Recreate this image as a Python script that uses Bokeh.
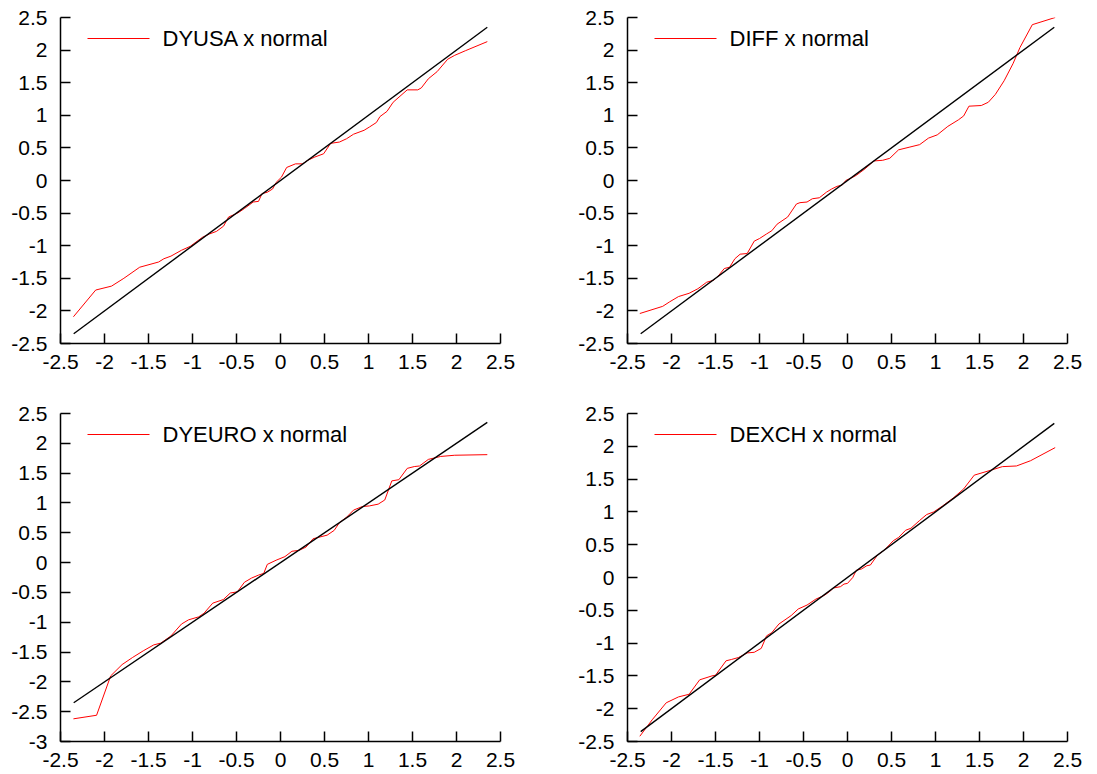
from bokeh.plotting import figure
from bokeh.models import Range1d, FixedTicker, Label, Arrow
from bokeh.layouts import column, row
from bokeh.embed import file_html
from bokeh.resources import INLINE

# Axis ticks and their printed labels
tick_values = [-3, -2.5, -2, -1.5, -1, -0.5, 0, 0.5, 1, 1.5, 2, 2.5]
tick_labels = ["-3", "-2.5", "-2", "-1.5", "-1", "-0.5", "0", "0.5", "1", "1.5", "2", "2.5"]

# 45-degree reference line spanning the theoretical quantiles
ref_x = [-2.35, 2.35]
ref_y = [-2.35, 2.35]

# Normal quantiles (x) against standardized sample quantiles (y)
dyusa_x = [-2.353, -2.10, -1.92, -1.78, -1.60, -1.385, -1.325, -1.245, -1.125, -1.026,
           -0.886, -0.807, -0.727, -0.647, -0.59, -0.488, -0.41, -0.31, -0.25, -0.21,
           -0.15, -0.09, -0.05, 0.01, 0.07, 0.17, 0.25, 0.31, 0.39, 0.49,
           0.57, 0.67, 0.75, 0.83, 0.95, 1.01, 1.09, 1.13, 1.21, 1.28,
           1.44, 1.56, 1.60, 1.68, 1.78, 1.90, 1.98, 2.10, 2.35]
dyusa_y = [-2.09, -1.68, -1.62, -1.50, -1.33, -1.25, -1.20, -1.16, -1.07, -1.01,
           -0.87, -0.82, -0.78, -0.70, -0.56, -0.50, -0.43, -0.33, -0.32, -0.20,
           -0.18, -0.13, -0.03, 0.05, 0.20, 0.255, 0.255, 0.31, 0.36, 0.41,
           0.57, 0.59, 0.64, 0.71, 0.77, 0.82, 0.89, 0.98, 1.06, 1.20,
           1.39, 1.39, 1.42, 1.56, 1.67, 1.86, 1.92, 1.99, 2.13]

diff_x = [-2.36, -2.10, -2.02, -1.92, -1.80, -1.70, -1.60, -1.52, -1.46, -1.40,
          -1.34, -1.28, -1.22, -1.14, -1.06, -1.00, -0.92, -0.86, -0.80, -0.68,
          -0.58, -0.54, -0.46, -0.40, -0.32, -0.24, -0.18, -0.12, -0.06, -0.02,
          0.06, 0.10, 0.20, 0.30, 0.40, 0.48, 0.58, 0.70, 0.82, 0.92,
          1.02, 1.14, 1.26, 1.32, 1.38, 1.52, 1.60, 1.68, 1.78, 1.88,
          1.96, 2.10, 2.36]
diff_y = [-2.04, -1.93, -1.86, -1.78, -1.73, -1.66, -1.56, -1.53, -1.45, -1.35,
          -1.33, -1.20, -1.13, -1.12, -0.93, -0.89, -0.82, -0.77, -0.67, -0.56,
          -0.36, -0.34, -0.33, -0.28, -0.265, -0.18, -0.13, -0.09, -0.07, 0.0,
          0.05, 0.08, 0.18, 0.30, 0.31, 0.34, 0.47, 0.51, 0.55, 0.65,
          0.70, 0.83, 0.93, 0.99, 1.14, 1.15, 1.20, 1.32, 1.53, 1.79,
          2.04, 2.39, 2.50]

dyeuro_x = [-2.353, -2.09, -1.93, -1.80, -1.68, -1.56, -1.44, -1.36, -1.245, -1.125,
            -1.045, -0.93, -0.87, -0.77, -0.65, -0.57, -0.49, -0.41, -0.33, -0.25,
            -0.19, -0.15, -0.05, 0.05, 0.13, 0.21, 0.29, 0.37, 0.45, 0.53,
            0.61, 0.67, 0.75, 0.83, 0.93, 1.01, 1.11, 1.185, 1.265, 1.345,
            1.44, 1.52, 1.58, 1.68, 1.82, 1.98, 2.35]
dyeuro_y = [-2.62, -2.56, -1.90, -1.71, -1.59, -1.48, -1.38, -1.35, -1.23, -1.03,
            -0.96, -0.91, -0.85, -0.68, -0.62, -0.51, -0.49, -0.33, -0.26, -0.21,
            -0.18, -0.03, 0.04, 0.10, 0.19, 0.205, 0.26, 0.40, 0.43, 0.46,
            0.54, 0.67, 0.76, 0.88, 0.94, 0.95, 0.98, 1.05, 1.37, 1.39,
            1.58, 1.61, 1.62, 1.73, 1.78, 1.80, 1.81]

dexch_x = [-2.36, -2.22, -2.06, -1.92, -1.80, -1.68, -1.54, -1.50, -1.38, -1.32,
           -1.24, -1.14, -1.06, -0.98, -0.92, -0.86, -0.78, -0.64, -0.56, -0.46,
           -0.36, -0.26, -0.20, -0.16, -0.08, -0.04, 0.00, 0.06, 0.10, 0.16,
           0.22, 0.26, 0.34, 0.42, 0.52, 0.58, 0.66, 0.72, 0.82, 0.90,
           0.98, 1.08, 1.20, 1.32, 1.44, 1.54, 1.64, 1.76, 1.92, 2.08, 2.36]
dexch_y = [-2.42, -2.17, -1.91, -1.82, -1.78, -1.56, -1.50, -1.49, -1.27, -1.25,
           -1.22, -1.15, -1.14, -1.08, -0.89, -0.84, -0.71, -0.58, -0.48, -0.42,
           -0.33, -0.27, -0.21, -0.16, -0.14, -0.10, -0.09, 0.0, 0.11, 0.13,
           0.18, 0.19, 0.34, 0.42, 0.56, 0.61, 0.72, 0.75, 0.87, 0.96,
           1.00, 1.09, 1.21, 1.35, 1.56, 1.60, 1.64, 1.69, 1.70, 1.78, 1.98]

FONT = "Liberation Sans"
RED = "#ff0000"


def qq_panel(name, qx, qy, y_start, width, height, left, right, top, bottom):
    p = figure(width=width, height=height, output_backend="svg", toolbar_location=None,
               x_range=Range1d(-2.5, 2.5), y_range=Range1d(y_start, 2.5),
               min_border_left=left, min_border_right=right,
               min_border_top=top, min_border_bottom=bottom)
    p.outline_line_color = None
    p.grid.visible = False

    p.line(qx, qy, line_color=RED, line_width=1)
    p.line(ref_x, ref_y, line_color="#000000", line_width=1.4)

    for ax in (p.xaxis[0], p.yaxis[0]):
        ax.ticker = FixedTicker(ticks=tick_values)
        ax.major_label_overrides = dict(zip(tick_values, tick_labels))
        ax.minor_tick_line_color = None
        ax.major_tick_in = 10
        ax.major_tick_out = 0
        ax.axis_line_width = 1.5
        ax.major_tick_line_width = 1.5
        ax.axis_line_color = "#000000"
        ax.major_tick_line_color = "#000000"
        ax.major_label_text_font = FONT
        ax.major_label_text_font_size = "21px"
        ax.major_label_text_color = "#000000"
    p.xaxis[0].major_label_standoff = 11
    p.yaxis[0].major_label_standoff = 13

    # key: short red stroke plus series caption, placed in frame (screen) units
    frame_h = height - top - bottom
    key_y = frame_h - 21
    p.add_layout(Arrow(end=None, x_start=27, y_start=key_y, x_end=89, y_end=key_y,
                       start_units="screen", end_units="screen",
                       line_color=RED, line_width=1))
    p.add_layout(Label(x=102, y=key_y, x_units="screen", y_units="screen",
                       text=name + " x normal", text_baseline="middle",
                       text_font=FONT, text_font_size="22px", text_color="#000000"))
    return p


p1 = qq_panel("DYUSA", dyusa_x, dyusa_y, -2.5, 560, 380, 60, 60, 17, 37)
p2 = qq_panel("DIFF", diff_x, diff_y, -2.5, 537, 380, 67, 30, 17, 37)
p3 = qq_panel("DYEURO", dyeuro_x, dyeuro_y, -3, 560, 394, 60, 60, 33, 33)
p4 = qq_panel("DEXCH", dexch_x, dexch_y, -2.5, 537, 394, 67, 30, 33, 33)

layout = column(row(p1, p2), row(p3, p4))

with open("out.html", "w") as f:
    f.write(file_html(layout, INLINE))
